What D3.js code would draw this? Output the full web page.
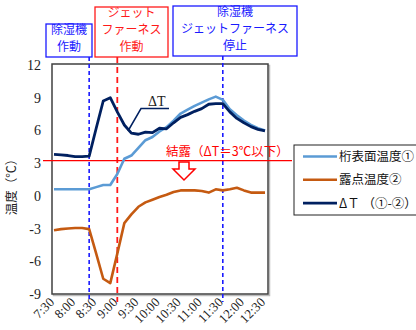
<!doctype html>
<html lang="ja">
<head>
<meta charset="utf-8">
<title>結露 温度推移</title>
<script src="https://cdnjs.cloudflare.com/ajax/libs/d3/7.8.5/d3.min.js"></script>
<style>
  body { margin: 0; background: #fff; }
  text { font-family: "Liberation Serif", "Noto Sans CJK JP", serif; }
  .jp { font-family: "Noto Sans CJK JP", sans-serif; }
</style>
</head>
<body>
<svg id="svg" width="416" height="330"></svg>
<script>
// 10分間隔の計測時刻
var times = ['7:30','7:40','7:50','8:00','8:10','8:20','8:30','8:40','8:50','9:00',
             '9:10','9:20','9:30','9:40','9:50','10:00','10:10','10:20','10:30','10:40',
             '10:50','11:00','11:10','11:20','11:30','11:40','11:50','12:00','12:10','12:20','12:30'];
var tickLabels = ['7:30','8:00','8:30','9:00','9:30','10:00','10:30','11:00','11:30','12:00','12:30'];
var yTicks = [-9, -6, -3, 0, 3, 6, 9, 12];

// 桁表面温度①
var surface = [0.6,0.6,0.6,0.6,0.6,0.6,0.8,1.0,1.0,2.0,
               3.4,3.7,4.4,5.1,5.4,5.9,6.3,6.9,7.55,7.9,
               8.25,8.55,8.85,9.1,8.8,7.95,7.4,6.9,6.5,6.2,6.0];
// 露点温度②
var dewPoint = [-3.15,-3.05,-3.0,-2.95,-2.95,-3.05,-5.3,-7.6,-8.0,-5.3,
                -2.5,-1.7,-1.0,-0.6,-0.35,-0.1,0.1,0.35,0.5,0.5,
                0.5,0.45,0.3,0.6,0.5,0.6,0.75,0.5,0.3,0.3,0.3];
// ΔT (①-②)
var deltaT = [3.8,3.75,3.7,3.6,3.6,3.65,6.2,8.7,9.0,7.7,
              6.5,5.75,5.65,5.85,5.8,6.2,6.15,6.7,7.2,7.45,
              7.75,8.0,8.4,8.45,8.45,7.7,7.1,6.7,6.35,6.1,5.95];

var seriesNames = ['桁表面温度①', '露点温度②', 'ΔＴ （①-②）'];
var seriesColors = ['#5b9bd5', '#c55a11', '#002060'];

// 注記: 縦線の時刻と説明
var events = [
  {time: '8:20', color: '#1a1aff', lines: ['除湿機', '作動'], box: [46, 24, 92, 57]},
  {time: '9:00', color: '#ff1a1a', lines: ['ジェット', 'ファーネス', '作動'], box: [95, 7, 168, 57]},
  {time: '11:30', color: '#1a1aff', lines: ['除湿機', 'ジェットファーネス', '停止'], box: [173, 6, 297, 56]}
];
var threshold = 3;

function toMin(t) {
  var p = t.split(':');
  return +p[0] * 60 + +p[1];
}

var svg = d3.select('#svg');
var plotL = 52, plotR = 268, plotT = 64, plotB = 294;

var x = d3.scaleLinear()
  .domain([toMin('7:30'), toMin('12:30')])
  .range([54, 265]);
var y = d3.scaleLinear()
  .domain([-9, 12])
  .range([plotB, plotT + 1]);

// plot frame
svg.append('rect')
  .attr('x', plotL + 1.5).attr('y', plotT + 1.5)
  .attr('width', plotR - plotL).attr('height', plotB - plotT)
  .attr('fill', 'none').attr('stroke', '#bbb').attr('stroke-width', 1.5);
svg.append('rect')
  .attr('x', plotL).attr('y', plotT)
  .attr('width', plotR - plotL).attr('height', plotB - plotT)
  .attr('fill', '#fff').attr('stroke', '#404040').attr('stroke-width', 1.5);

// y tick labels
svg.selectAll('.ytick')
  .data(yTicks)
  .enter()
  .append('text')
  .attr('x', 41)
  .attr('y', function(d) { return y(d) + 5; })
  .attr('text-anchor', 'end')
  .attr('font-size', 14)
  .attr('fill', '#222')
  .text(function(d) { return d; });

// x tick labels
svg.selectAll('.xtick')
  .data(tickLabels)
  .enter()
  .append('text')
  .attr('transform', function(d) {
    return 'translate(' + (x(toMin(d)) + 1) + ',' + 303 + ') rotate(-45)';
  })
  .attr('text-anchor', 'end')
  .attr('font-size', 13)
  .attr('fill', '#222')
  .text(function(d) { return d; });

// y axis title
svg.append('text')
  .attr('class', 'jp')
  .attr('transform', 'translate(16,184) rotate(-90)')
  .attr('text-anchor', 'middle')
  .attr('font-size', 12.5)
  .attr('fill', '#222')
  .text('温度（℃）');

// event boxes and vertical lines
events.forEach(function(e) {
  var b = e.box;
  svg.append('rect')
    .attr('x', b[0]).attr('y', b[1])
    .attr('width', b[2] - b[0]).attr('height', b[3] - b[1])
    .attr('fill', '#fff').attr('stroke', e.color).attr('stroke-width', 1.3);
  var cx = (b[0] + b[2]) / 2;
  var n = e.lines.length;
  e.lines.forEach(function(s, i) {
    svg.append('text')
      .attr('class', 'jp')
      .attr('x', cx)
      .attr('y', b[3] - 6 - (n - 1 - i) * 17)
      .attr('text-anchor', 'middle')
      .attr('font-size', 12)
      .attr('fill', e.color)
      .text(s);
  });
  svg.append('line')
    .attr('x1', x(toMin(e.time))).attr('x2', x(toMin(e.time)))
    .attr('y1', b[3]).attr('y2', 302)
    .attr('stroke', e.color)
    .attr('stroke-width', e.color === '#ff1a1a' ? 1.8 : 1.6)
    .attr('stroke-dasharray', e.color === '#ff1a1a' ? '6,4' : '4,3');
});

// threshold line
svg.append('line')
  .attr('x1', 43).attr('x2', 292)
  .attr('y1', y(threshold) - 2.5).attr('y2', y(threshold) - 2.5)
  .attr('stroke', '#ff0000').attr('stroke-width', 1.3);

svg.append('text')
  .attr('class', 'jp')
  .attr('x', 166).attr('y', 156)
  .attr('font-size', 12.5)
  .attr('fill', '#ff0000')
  .text('結露（ΔT＝3℃以下）');

// hollow down arrow
svg.append('path')
  .attr('d', 'M179,162 L189,162 L189,169 L195,169 L184,180 L173,169 L179,169 Z')
  .attr('fill', '#fff').attr('stroke', '#ff0000').attr('stroke-width', 1.5);

// series lines
var line = d3.line()
  .x(function(d, i) { return x(toMin(times[i])); })
  .y(function(d) { return y(d); });

var allSeries = [surface, dewPoint, deltaT];
var widths = [2.6, 2.6, 2.8];
svg.selectAll('.series')
  .data(allSeries)
  .enter()
  .append('path')
  .attr('d', line)
  .attr('fill', 'none')
  .attr('stroke', function(d, i) { return seriesColors[i]; })
  .attr('stroke-width', function(d, i) { return widths[i]; })
  .attr('stroke-linejoin', 'round');

// ΔT leader label
svg.append('path')
  .attr('d', 'M128,131 L141,108.5 L169,108.5')
  .attr('fill', 'none').attr('stroke', '#002060').attr('stroke-width', 1.5);
svg.append('text')
  .attr('x', 148).attr('y', 106)
  .attr('font-size', 14)
  .attr('fill', '#222')
  .text('ΔT');

// legend
svg.append('rect')
  .attr('x', 294).attr('y', 145)
  .attr('width', 130).attr('height', 70)
  .attr('fill', '#fff').attr('stroke', '#222').attr('stroke-width', 1);

var leg = svg.selectAll('.leg')
  .data(seriesNames)
  .enter()
  .append('g')
  .attr('transform', function(d, i) { return 'translate(0,' + (156.5 + i * 23.3) + ')'; });
leg.append('line')
  .attr('x1', 303).attr('x2', 337)
  .attr('stroke', function(d, i) { return seriesColors[i]; })
  .attr('stroke-width', 2.6);
leg.append('text')
  .attr('class', 'jp')
  .attr('x', 339).attr('y', 4.5)
  .attr('font-size', 12.5)
  .attr('fill', '#111')
  .text(function(d) { return d; });
</script>
</body>
</html>
